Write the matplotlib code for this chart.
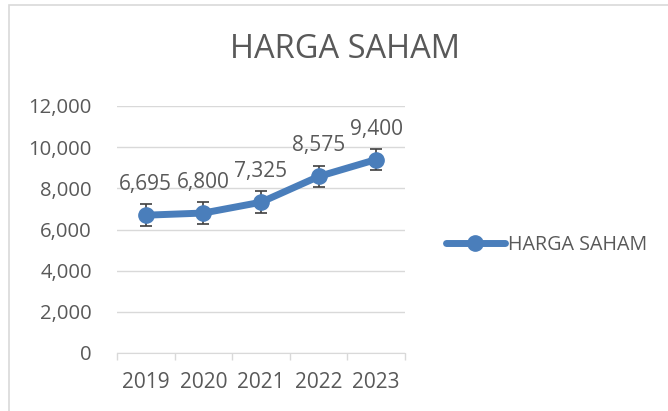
import matplotlib.pyplot as plt
from matplotlib.patches import Rectangle

years = ['2019', '2020', '2021', '2022', '2023']
harga = [6695, 6800, 7325, 8575, 9400]
err = [529, 529, 529, 529, 529]  # standard error bars
yticks = [0, 2000, 4000, 6000, 8000, 10000, 12000]

plt.rcParams['font.family'] = ['Open Sans', 'DejaVu Sans']
txt = '#595959'
blue = '#4a7ebb'

fig = plt.figure(figsize=(6.68, 4.11), dpi=100)
fig.patches.append(Rectangle((9 / 668, -0.1), 1.0, 1 - 5 / 411 + 0.1, transform=fig.transFigure,
                             fill=False, edgecolor='#d9d9d9', lw=1.2))

ax = fig.add_axes([117 / 668, 1 - 353 / 411, (405 - 117) / 668, (353 - 106) / 411])
x = list(range(len(years)))
ax.errorbar(x, harga, yerr=err, fmt='none', ecolor='#404040', elinewidth=1.2, capsize=4.5, capthick=1.2, zorder=3)
ax.plot(x, harga, color=blue, lw=5, marker='o', ms=11, solid_capstyle='round', zorder=4, label='HARGA SAHAM')
for xi, v in zip(x, harga):
    ax.annotate(f'{v:,}', (xi, v), xytext=(0, 18), textcoords='offset points', ha='center', va='baseline',
                fontsize=15, color=txt)

ax.set_xlim(-0.5, 4.5)
ax.set_ylim(0, 12000)
ax.set_yticks(yticks)
ax.set_yticklabels([f'{t:,}' for t in yticks])
ax.yaxis.grid(True, color='#d9d9d9', lw=1)
ax.set_axisbelow(True)
ax.set_xticks([i - 0.5 for i in range(6)])
ax.set_xticklabels([])
ax.set_xticks(x, minor=True)
ax.set_xticklabels(years, minor=True)
ax.tick_params(axis='x', which='major', length=5, color='#d9d9d9', width=1)
ax.tick_params(axis='x', which='minor', length=0, pad=14, labelsize=15, labelcolor=txt)
ax.tick_params(axis='y', length=0, pad=18, labelsize=14.6, labelcolor=txt)
for s in ['top', 'right', 'left']:
    ax.spines[s].set_visible(False)
ax.spines['bottom'].set_color('#d9d9d9')

fig.text(345 / 668, 1 - 50 / 411, 'HARGA SAHAM', ha='center', va='center', fontsize=23.5, color=txt)
fig.legend(loc='center left', bbox_to_anchor=(428 / 668, 1 - 245 / 411), frameon=False,
           fontsize=14.2, labelcolor=txt, handlelength=3.0, handletextpad=0.15)

fig.savefig('out.png', dpi=100)
